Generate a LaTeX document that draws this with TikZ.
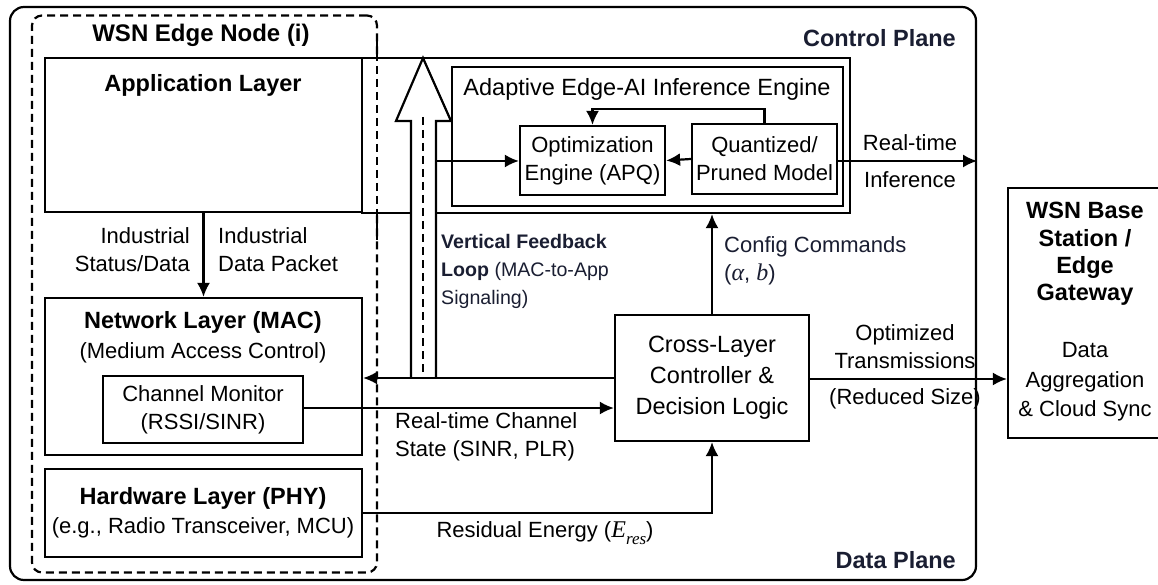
\RequirePackage{fix-cm}
\documentclass[tikz,border=0pt]{standalone}
\usepackage{fontspec}
\setmainfont{Liberation Sans}
\newfontfamily\mifont{Liberation Serif}
\usetikzlibrary{arrows.meta,calc}
\definecolor{navy}{RGB}{26,30,50}
\newcommand{\mvar}[1]{{\mifont\itshape\fontsize{24}{28}\selectfont #1}}
\tikzset{
  bx/.style={draw, line width=2.2pt, inner sep=0pt, fill=white, align=center},
  arr/.style={line width=2.2pt, -{Latex[length=14pt,width=13pt]}},
  ln/.style={line width=2.2pt},
  tx/.style={inner sep=0pt, align=center, font=\fontsize{22}{28}\selectfont},
  txb/.style={inner sep=0pt, align=center, font=\fontsize{23.5}{28}\selectfont\bfseries},
  txm/.style={inner sep=0pt, align=center, font=\fontsize{23.5}{31}\selectfont},
}
\begin{document}
\begin{tikzpicture}[x=1pt,y=-1pt]
\useasboundingbox (0,0) rectangle (1158,585);
\clip (0,0) rectangle (1158,585);
\fill[white] (0,0) rectangle (1158,585);

% frames
\node[draw, line width=2.2pt, rounded corners=14pt, minimum width=966pt, minimum height=573pt, inner sep=0pt] (frame) at (493,293.5) {};
\node[draw, line width=2.2pt, dash pattern=on 8pt off 5pt, rounded corners=10pt, minimum width=345pt, minimum height=557pt, inner sep=0pt] (edge) at (204.5,294) {};

\node[txb, navy, anchor=east] (cplane) at (956,38) {Control Plane};
\node[txb, navy, anchor=east] (dplane) at (956,560) {Data Plane};
\node[txb, font=\fontsize{24}{28}\selectfont\bfseries] (edgetitle) at (201,35) {WSN Edge Node (i)};

% application layer + engine
\node[bx, minimum width=317pt, minimum height=154pt] (app) at (203.5,135) {};
\node[bx, minimum width=488pt, minimum height=155pt] (eouter) at (606,135.5) {};
% dashed edge continues over the boxes
\draw[line width=2.2pt, dash pattern=on 8pt off 5pt] (377,40) -- (377,240);
\node[bx, minimum width=391pt, minimum height=139pt] (einner) at (647.5,136.5) {};
\node[txb] (apptitle) at (203,85) {Application Layer};
\node[txm] (engtitle) at (647,89) {Adaptive Edge-AI Inference Engine};
\node[bx, tx, minimum width=145pt, minimum height=69pt] (opt) at (592.5,160.5) {Optimization\\Engine (APQ)};
\node[bx, tx, minimum width=145pt, minimum height=70pt] (quant) at (764.5,159) {Quantized/\\Pruned Model};

% network, phy
\node[bx, minimum width=317pt, minimum height=157pt] (net) at (203.5,376.5) {};
\node[txb] (nettitle) at (203,322) {Network Layer (MAC)};
\node[tx] (netsub) at (203,353) {(Medium Access Control)};
\node[bx, tx, minimum width=200pt, minimum height=67pt] (chm) at (203,409.5) {Channel Monitor\\(RSSI/SINR)};
\node[bx, minimum width=317pt, minimum height=88pt] (phy) at (203.5,513) {};
\node[txb] (phytitle) at (203,498) {Hardware Layer (PHY)};
\node[tx] (physub) at (203,528) {(e.g., Radio Transceiver, MCU)};

% controller
\node[bx, txm, minimum width=194pt, minimum height=126pt] (ctrl) at (712,378) {Cross-Layer\\Controller \&\\Decision Logic};

% base station
\node[bx, minimum width=154pt, minimum height=250pt] (base) at (1085,313) {};
\node[txb, font=\fontsize{23.5}{27.3}\selectfont\bfseries] (basetitle) at (1085,254) {WSN Base\\Station /\\Edge\\Gateway};
\node[tx, font=\fontsize{22}{29.5}\selectfont] (basesub) at (1085,382) {Data\\Aggregation\\\& Cloud Sync};

% big hollow feedback arrow
\draw[ln, fill=white] (411,378) -- (411,121) -- (396,121) -- (423,58) -- (451,121) -- (436,121) -- (436,378);
\draw[line width=2.4pt, dash pattern=on 8pt off 5pt] (423,117) -- (423,378);
\coordinate (shaftR) at (436,161);
\node[inner sep=0pt, anchor=west, align=left, navy, font=\fontsize{19.6}{28}\selectfont] (vfl) at (441,271)
  {\textbf{Vertical Feedback}\\\textbf{Loop} (MAC-to-App\\Signaling)};

% connectors
\draw[arr] (shaftR) -- (opt.west |- shaftR);
\draw[arr] (quant.west) -- (opt.east);
\draw[arr] (quant.north) -- ++(0,-14) -| (opt.north);
\draw[arr] (quant.east |- 0,161) -- (frame.east |- 0,161);
\node[tx] (rti1) at (910,143) {Real-time};
\node[tx] (rti2) at (910,180) {Inference};

\draw[arr] (app.south) -- (net.north);
\node[tx, align=right, anchor=east] (ind1) at (190,250) {Industrial\\Status/Data};
\node[tx, align=left, anchor=west] (ind2) at (218,250) {Industrial\\Data Packet};

\draw[arr] (ctrl.west) -- (ctrl.west -| net.east);
\draw[arr] (chm.east |- 0,408) -- (ctrl.west |- 0,408);
\node[tx, align=left, anchor=west] (rtcs) at (395,437) {Real-time Channel\\State (SINR, PLR)};
\draw[arr] (phy.east) -| (ctrl.south);
\node[tx] (resen) at (545,533) {Residual Energy (\mvar{E}\raisebox{-0.3em}{\mvar{\fontsize{17}{17}\selectfont res}})};

\draw[arr] (ctrl.north) -- (ctrl.north |- eouter.south);
\node[tx, align=left, anchor=west, navy] (cfg) at (724,261) {Config Commands\\(\mvar{α}, \mvar{b})};

\draw[arr] (ctrl.east |- 0,379) -- (base.west |- 0,379);
\node[tx] (opt1) at (905,347) {Optimized\\Transmissions};
\node[tx] (opt2) at (905,399) {(Reduced Size)};
\end{tikzpicture}
\end{document}
